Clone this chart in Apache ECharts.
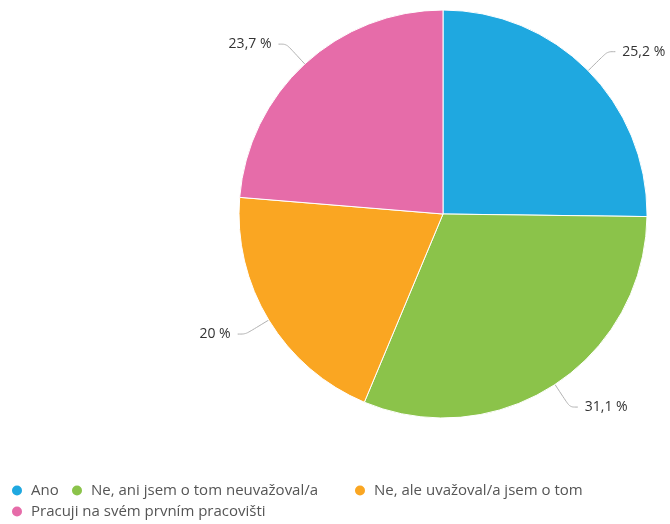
<!DOCTYPE html>
<html>
<head>
<meta charset="utf-8">
<script src="https://cdn.jsdelivr.net/npm/echarts@6/dist/echarts.min.js"></script>
<style>
  html, body { margin: 0; padding: 0; background: #fff; }
  #chart { width: 670px; height: 524px; }
</style>
</head>
<body>
<div id="chart"></div>
<script>
// Answer categories and their shares (percent)
const categories = [
  'Ano',
  'Ne, ani jsem o tom neuvažoval/a',
  'Ne, ale uvažoval/a jsem o tom',
  'Pracuji na svém prvním pracovišti'
];
const shares = [25.2, 31.1, 20, 23.7];
const colors = ['#1fa8e0', '#8bc34a', '#faa622', '#e66ca9'];

// Legend placement for each category (left, top)
const legendSpots = [[12, 483], [72, 483], [355, 483], [12, 504]];

const chart = echarts.init(document.getElementById('chart'), null, { renderer: 'canvas' });

const fmt = v => String(v).replace('.', ',') + ' %';

const legends = categories.map((name, i) => ({
  data: [name],
  left: legendSpots[i][0],
  top: legendSpots[i][1],
  orient: 'horizontal',
  icon: 'circle',
  itemWidth: 10,
  itemHeight: 10,
  itemGap: 8,
  padding: 0,
  selectedMode: false,
  itemStyle: { borderWidth: 0 },
  textStyle: { fontFamily: 'Open Sans', fontSize: 15, color: '#555', padding: [0, 0, 0, 4] }
}));

chart.setOption({
  animation: false,
  color: colors,
  legend: legends,
  series: [{
    type: 'pie',
    center: [443, 214],
    radius: 204,
    startAngle: 90,
    clockwise: true,
    itemStyle: { borderColor: '#fff', borderWidth: 1 },
    label: {
      show: true,
      formatter: p => fmt(shares[p.dataIndex]),
      fontFamily: 'Open Sans',
      fontSize: 14,
      color: '#333',
      overflow: 'none',
      distanceToLabelLine: 7
    },
    labelLine: {
      show: true,
      length: 27,
      length2: 8,
      smooth: 0.3,
      lineStyle: { color: '#b0b0b0', width: 1 }
    },
    emphasis: { disabled: true },
    data: categories.map((name, i) => ({ name, value: shares[i] }))
  }]
});
</script>
</body>
</html>
